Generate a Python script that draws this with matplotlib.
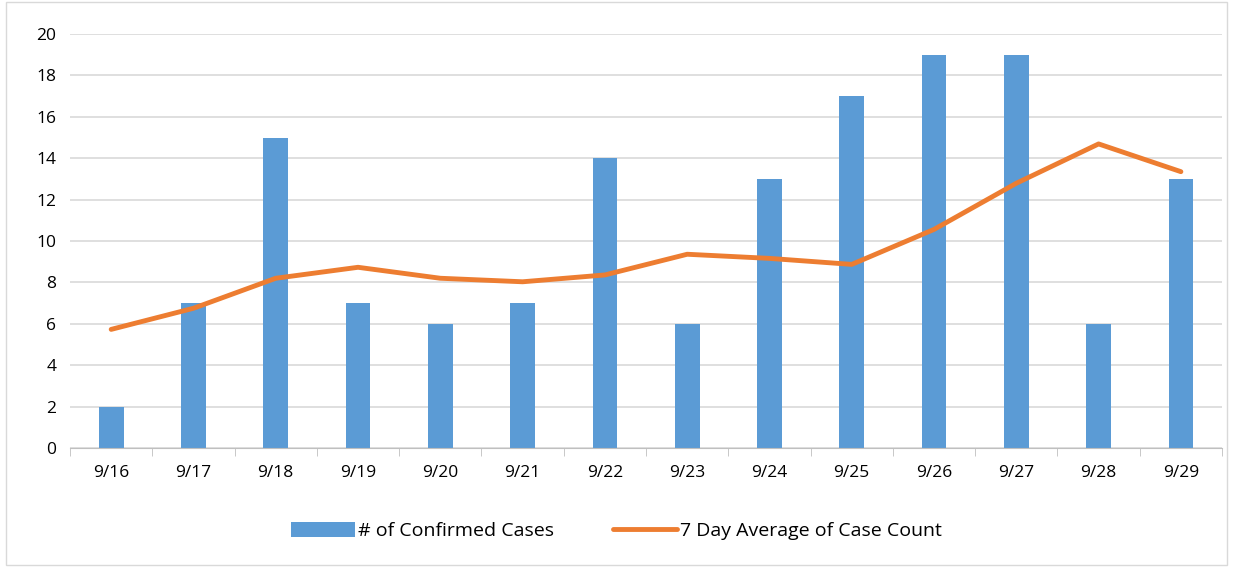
import numpy as np
import matplotlib
matplotlib.use("Agg")
import matplotlib.pyplot as plt
from matplotlib.patches import Rectangle

dates = ["9/16", "9/17", "9/18", "9/19", "9/20", "9/21", "9/22",
         "9/23", "9/24", "9/25", "9/26", "9/27", "9/28", "9/29"]
cases = [2, 7, 15, 7, 6, 7, 14, 6, 13, 17, 19, 19, 6, 13]
avg7 = [5.73, 6.75, 8.2, 8.73, 8.2, 8.03, 8.36,
        9.36, 9.16, 8.87, 10.56, 12.79, 14.69, 13.35]

plt.rcParams["font.family"] = ["Open Sans", "DejaVu Sans"]
fig = plt.figure(figsize=(12.33, 5.67), dpi=100)
ax = fig.add_axes([0.0568, 0.2099, 0.9343, 0.7301])
x = np.arange(len(dates))

bars = ax.bar(x, cases, width=0.30, color="#5b9bd5", label="# of Confirmed Cases", zorder=2)
line, = ax.plot(x, avg7, color="#ed7d31", lw=3.5, solid_capstyle="round",
                label="7 Day Average of Case Count", zorder=3)

ax.set_xlim(-0.5, len(dates) - 0.5)
ax.set_ylim(0, 20)
ax.set_yticks(range(0, 21, 2))
ax.set_xticks(x)
ax.set_xticklabels(dates)
ax.set_xticks(np.arange(-0.5, len(dates), 1), minor=True)
ax.tick_params(axis="x", which="major", length=0, pad=12, labelsize=12.5)
ax.tick_params(axis="x", which="minor", length=6, color="#bfbfbf")
ax.tick_params(axis="y", length=0, pad=10, labelsize=12.5)
ax.grid(axis="y", color="#d9d9d9", lw=1.2, zorder=0)
for s in ["top", "right", "left"]:
    ax.spines[s].set_visible(False)
ax.spines["bottom"].set_color("#bfbfbf")

fig.legend([bars, line], ["# of Confirmed Cases", "7 Day Average of Case Count"],
           loc="center", bbox_to_anchor=(0.5, 0.063), ncol=2, frameon=False,
           fontsize=14, handlelength=3.3, handleheight=0.8, handletextpad=0.15,
           columnspacing=3.0)

fig.patches.append(Rectangle((0.005, 0.003), 0.99, 0.994, transform=fig.transFigure,
                             fill=False, ec="#d9d9d9", lw=1))
fig.savefig("out.png", dpi=100)
